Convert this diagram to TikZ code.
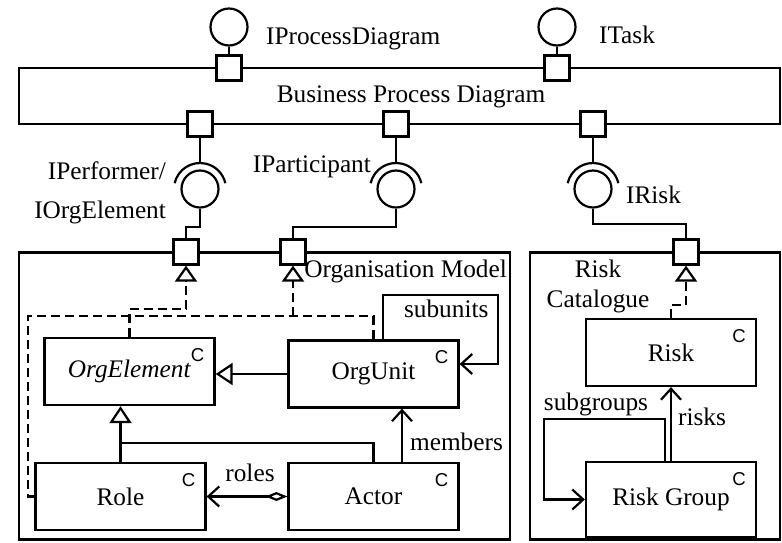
\documentclass[tikz,border=0pt]{standalone}
\usepackage{fontspec}
\setmainfont{Liberation Serif}
\newfontfamily\markfont{Liberation Sans}
\usetikzlibrary{arrows.meta}

\newcommand\umlfont{\fontsize{25.3}{30}\selectfont}

\tikzset{
    port/.style={draw, fill=white, minimum size=25pt, inner sep=0pt},
    ball/.style={draw, circle, minimum size=37pt, inner sep=0pt},
    frame/.style={draw, inner sep=0pt},
    classbox/.style={draw, minimum width=170pt, minimum height=67pt, inner sep=0pt},
    cmark/.style={font=\markfont\fontsize{18.6}{20}\selectfont, inner sep=0pt},
    lbl/.style={inner sep=0pt},
    gen/.style={-{Triangle[open, length=17pt, width=22pt]}},
    dashes/.style={dash pattern=on 9pt off 5pt},
    real/.style={dashes, -{Triangle[open, length=16pt, width=22pt]}},
    nav/.style={-{Straight Barb[length=11pt, width=20pt]}},
    agg/.style={{Diamond[open, length=22pt, width=9pt]}-{Straight Barb[length=11pt, width=20pt]}},
}

\begin{document}
\begin{tikzpicture}[x=1pt, y=-1pt, line width=2.2pt, font=\umlfont]
            \useasboundingbox (0,0) rectangle (782,542);

            \node[frame, minimum width=761pt, minimum height=56pt] (bpd) at (399.5,96) {};
            \node[frame, minimum width=491pt, minimum height=287pt] (orgmodel) at (264.5,396) {};
            \node[frame, minimum width=250pt, minimum height=287pt] (riskcat) at (655,396) {};

            \node[lbl, anchor=base] (bpdname) at (411,102) {Business Process Diagram};
            \node[lbl, anchor=base east] (orgname) at (508,277) {Organisation Model};
            \node[lbl, align=center] (riskcatname) at (598,286) {Risk\\Catalogue};

            % ports on the component borders
            \node[port] (pdiag) at (229,68) {};
            \node[port] (ptask) at (557,68) {};
            \node[port] (pperf) at (200,124) {};
            \node[port] (ppart) at (396,124) {};
            \node[port] (prisk) at (593,124) {};
            \node[port] (porgel) at (186,252) {};
            \node[port] (porgpa) at (293,252) {};
            \node[port] (prc) at (686,252) {};

            \node[ball] (bdiag) at (229,27) {};
            \node[ball] (btask) at (557,27) {};
            \node[ball] (bperf) at (200,189) {};
            \node[ball] (bpart) at (396,189) {};
            \node[ball] (brisk) at (593,189) {};

            \node[lbl, anchor=base west] (ldiag) at (265,44) {IProcessDiagram};
            \node[lbl, anchor=base west] (ltask) at (598,43) {ITask};
            \node[lbl, anchor=east, align=right] (lperf) at (167,193) {IPerformer/\\[9pt]IOrgElement};
            \node[lbl, anchor=base east] (lpart) at (372,172) {IParticipant};
            \node[lbl, anchor=base west] (lrisk) at (625,203) {IRisk};

            \draw (bdiag) -- (pdiag);
            \draw (btask) -- (ptask);

            \foreach \b/\p in {bperf/pperf, bpart/ppart, brisk/prisk} {
                \draw ([shift={(193:26)}]\b.center)
                    arc[start angle=193, end angle=347, radius=26];
                \draw (\p.south) -- ([shift={(0,-26)}]\b.center);
            }

            \draw (bperf.south) -- ++(0,18) -| (porgel.north);
            \draw (bpart.south) -- ++(0,18) -| (porgpa.north);
            \draw (brisk.south) -- ++(0,15) -| (prc.north);

            % classes
            \node[classbox] (orgelem) at (129.5,371.5) {\textit{OrgElement}};
            \node[classbox] (orgunit) at (373.5,374) {OrgUnit};
            \node[classbox] (role) at (120.5,496.5) {Role};
            \node[classbox] (actor) at (373.5,496.5) {Actor};
            \node[classbox] (risk) at (671,352.5) {Risk};
            \node[classbox, minimum height=75pt] (riskgroup) at (671,499.5) {Risk Group};

            \foreach \c in {orgelem, orgunit, role, actor, risk, riskgroup}
                \node[cmark] (\c-c) at ([shift={(-18,18)}]\c.north east) {C};

            \draw[gen] (orgunit.west) -- (orgelem.east |- orgunit.west);
            \draw[gen] (role.north) -- (role.north |- orgelem.south);
            \draw (actor.north) |- (role.north |- 0,443);

            \draw[nav] ([xshift=28.5pt]actor.north) -- ([xshift=28.5pt]orgunit.south)
                node[lbl, anchor=base west] (lmembers) at (409,450) {members};
            \draw[agg] (actor.west) -- (role.east)
                node[lbl, anchor=base] (lroles) at (250,481) {roles};
            \draw[nav] ([xshift=9.5pt]orgunit.north) |- (498,295)
                |- ([shift={(0,-10)}]orgunit.east);
            \node[lbl, anchor=base west] (lsubunits) at (403,317) {subunits};

            \draw[nav] (riskgroup.north) -- (risk.south);
            \node[lbl, anchor=base west] (lrisks) at (677,425) {risks};
            \draw[nav] ([xshift=-6pt]riskgroup.north) |- (544,419) |- (riskgroup.west);
            \node[lbl, anchor=base] (lsubgroups) at (596,410) {subgroups};

            % realisations of the provided ports
            \draw[real] (orgelem.north) |- (porgel.south |- 0,309) -- (porgel.south);
            \draw[dashes] (role.west) -| (28,316) -| (orgunit.north);
            \draw[real] (porgpa.south |- 0,316) -- (porgpa.south);
            \draw[real] (risk.north) |- (prc.south |- 0,305) -- (prc.south);
        \end{tikzpicture}
\end{document}
